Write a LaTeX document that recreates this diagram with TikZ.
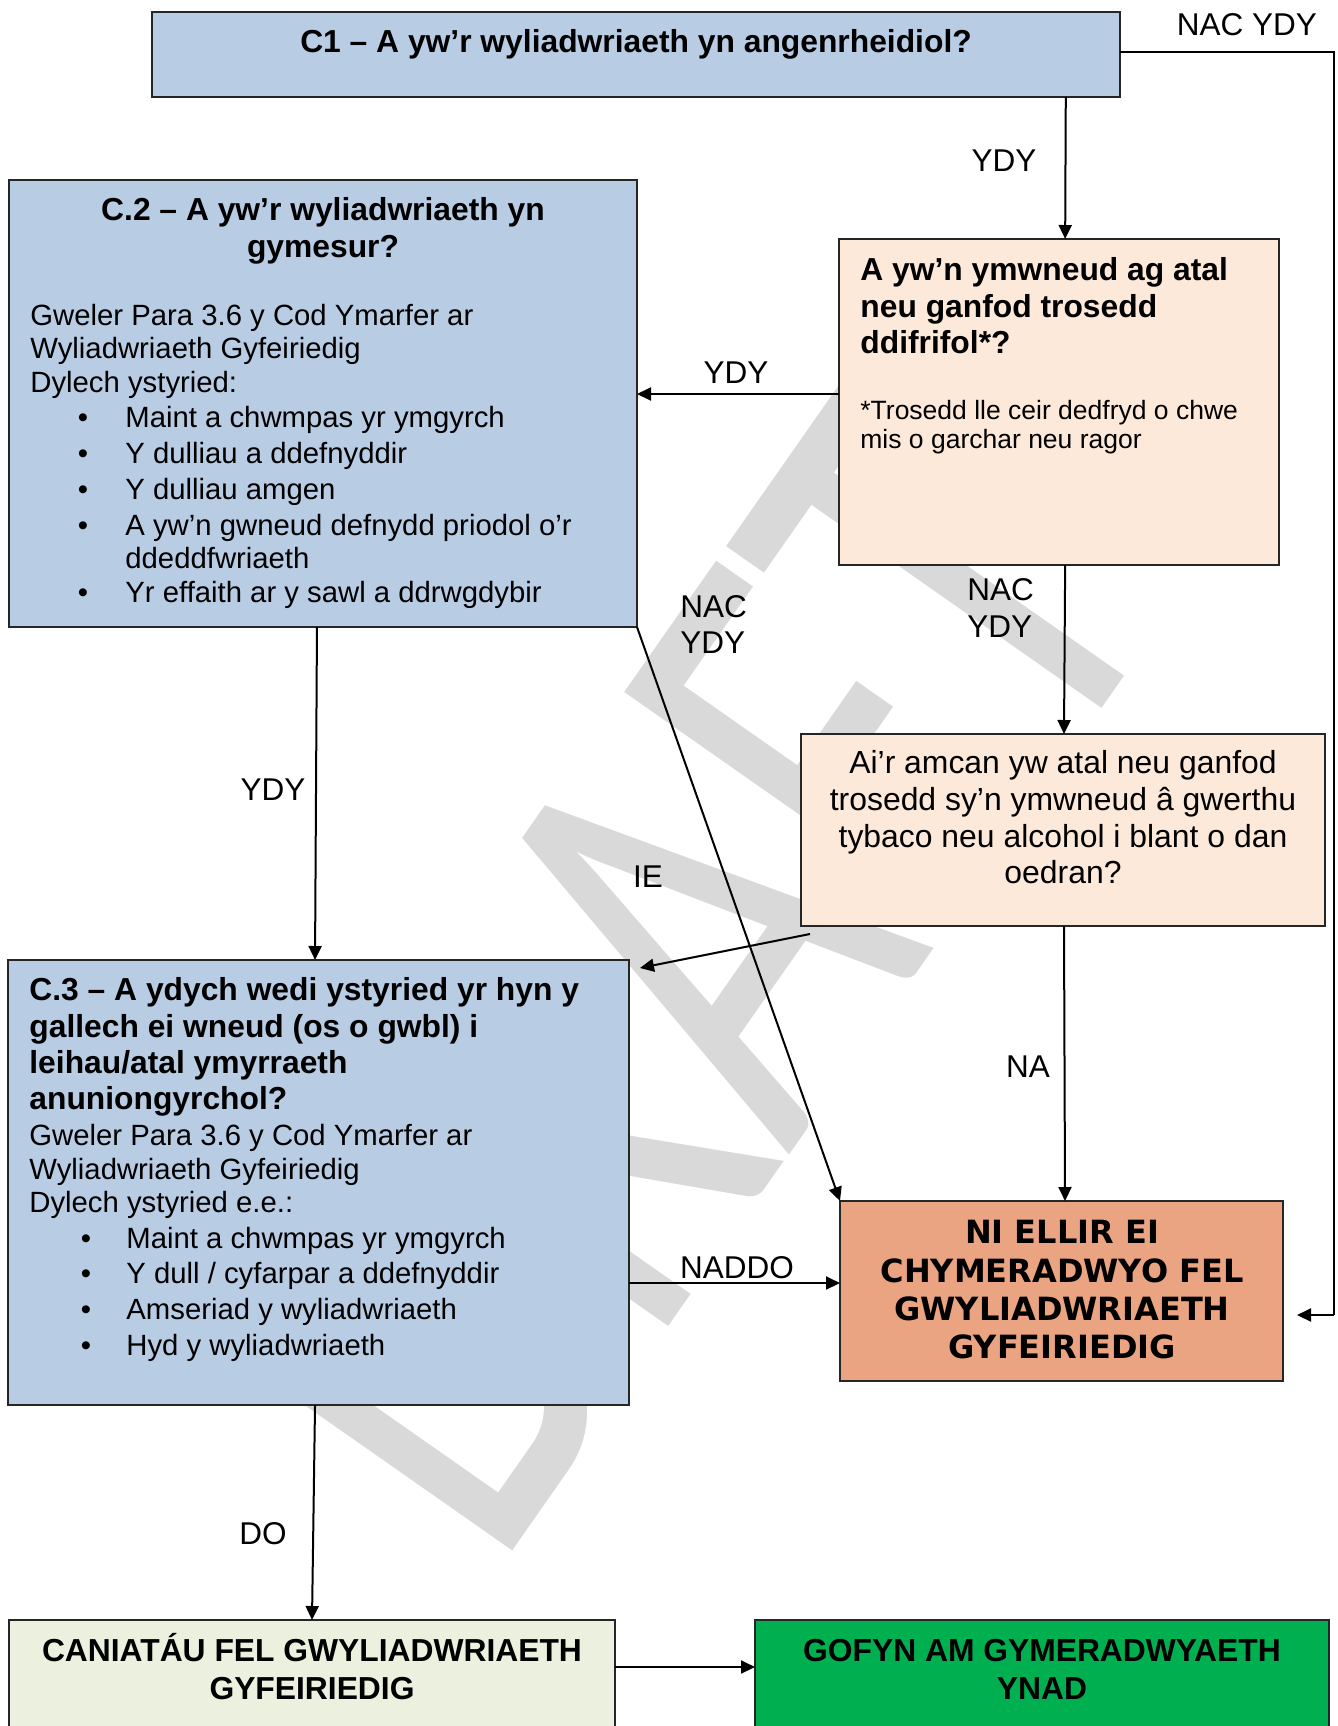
\documentclass[tikz,border=0pt]{standalone}
\usepackage{fontspec}
\setmainfont{Liberation Sans}
\newfontfamily\vfont{DejaVu Sans}
\newfontfamily\wmfont{Carlito}
\usetikzlibrary{arrows.meta,calc,fit}
\definecolor{qblue}{HTML}{B8CCE4}
\definecolor{qpeach}{HTML}{FDE9D9}
\definecolor{qsalmon}{HTML}{EAA482}
\definecolor{qpale}{HTML}{EBF1DE}
\definecolor{qgreen}{HTML}{00B050}
\definecolor{qwm}{HTML}{D9D9D9}
\tikzset{
  box/.style={draw=black!85,line width=1.15pt,inner sep=0pt,outer sep=0pt},
  ttl/.style={font=\fontsize{15.9}{18}\selectfont\bfseries,inner sep=0pt},
  ttlw/.style={ttl,anchor=base west},
  ttlc/.style={ttl,anchor=base},
  bod/.style={font=\fontsize{14.65}{17}\selectfont,inner sep=0pt,anchor=base west},
  bul/.style={font=\fontsize{14.65}{17}\selectfont,inner sep=0pt,anchor=base},
  foot/.style={font=\fontsize{13.25}{15}\selectfont,inner sep=0pt,anchor=base west},
  qtxt/.style={font=\fontsize{15.95}{18}\selectfont,inner sep=0pt,anchor=base},
  lbl/.style={font=\fontsize{15.75}{18}\selectfont,inner sep=0pt,anchor=base},
  nitxt/.style={font=\vfont\fontsize{16}{18}\selectfont\bfseries,inner sep=0pt,anchor=base},
  ln/.style={line width=1pt,draw=black},
  arr/.style={ln,-{Triangle[length=7pt,width=6.5pt]}}
}
\begin{document}
\begin{tikzpicture}[x=0.5pt,y=-0.5pt]
\useasboundingbox (0,0) rectangle (1338,1726);
% watermark
\node[font=\wmfont\fontsize{240}{240}\selectfont,text=qwm,rotate=55,xscale=0.92,yscale=1.3,inner sep=0pt] (wm) at (671,975) {DRAFT};
% boxes
\node[box,fill=qblue,fit={(152,12)(1120,97)}] (c1) {};
\node[box,fill=qblue,fit={(9,180)(637,627)}] (c2) {};
\node[box,fill=qpeach,fit={(839,239)(1279,565)}] (b2) {};
\node[box,fill=qpeach,fit={(801,734)(1325,926)}] (b3) {};
\node[box,fill=qblue,fit={(8,960)(629,1405)}] (c3) {};
\node[box,fill=qsalmon,fit={(840,1201)(1283,1381)}] (ni) {};
\node[box,fill=qpale,fit={(9,1620)(615,1760)}] (can) {};
\node[box,fill=qgreen,fit={(755,1620)(1329,1760)}] (gr) {};
% C1
\node[ttlc] (t1) at (636,52) {C1 – A yw’r wyliadwriaeth yn angenrheidiol?};
% C2
\node[ttlc] (t2a) at (323,220) {C.2 – A yw’r wyliadwriaeth yn};
\node[ttlc] (t2b) at (323,257) {gymesur?};
\node[bod] (c2l1) at (30,325) {Gweler Para 3.6 y Cod Ymarfer ar};
\node[bod] (c2l2) at (30,358) {Wyliadwriaeth Gyfeiriedig};
\node[bod] (c2l3) at (30,392) {Dylech ystyried:};
\foreach \yy/\tt [count=\i] in {427/{Maint a chwmpas yr ymgyrch},463/{Y dulliau a ddefnyddir},499/{Y dulliau amgen},535/{A yw’n gwneud defnydd priodol o’r},602/{Yr effaith ar y sawl a ddrwgdybir}}{
  \node[bod] (c2i\i) at (125,\yy) {\tt};
  \node[bul] (c2b\i) at (83,\yy) {•};
}
\node[bod] (c2i6) at (125,568) {ddeddfwriaeth};
% box 2
\node[ttlw] (b2t1) at (860,280) {A yw’n ymwneud ag atal};
\node[ttlw] (b2t2) at (860,317) {neu ganfod trosedd};
\node[ttlw] (b2t3) at (860,353) {ddifrifol*?};
\node[foot] (b2f1) at (860,419) {*Trosedd lle ceir dedfryd o chwe};
\node[foot] (b2f2) at (860,448) {mis o garchar neu ragor};
% box 3
\node[qtxt] (b3t1) at (1063,773) {Ai’r amcan yw atal neu ganfod};
\node[qtxt] (b3t2) at (1063,810) {trosedd sy’n ymwneud â gwerthu};
\node[qtxt] (b3t3) at (1063,847) {tybaco neu alcohol i blant o dan};
\node[qtxt] (b3t4) at (1063,883) {oedran?};
% C3
\node[ttlw] (t3a) at (29,1000) {C.3 – A ydych wedi ystyried yr hyn y};
\node[ttlw] (t3b) at (29,1037) {gallech ei wneud (os o gwbl) i};
\node[ttlw] (t3c) at (29,1073) {leihau/atal ymyrraeth};
\node[ttlw] (t3d) at (29,1109) {anuniongyrchol?};
\node[bod] (c3l1) at (29,1145) {Gweler Para 3.6 y Cod Ymarfer ar};
\node[bod] (c3l2) at (29,1179) {Wyliadwriaeth Gyfeiriedig};
\node[bod] (c3l3) at (29,1212) {Dylech ystyried e.e.:};
\foreach \yy/\tt [count=\i] in {1248/{Maint a chwmpas yr ymgyrch},1283/{Y dull / cyfarpar a ddefnyddir},1319/{Amseriad y wyliadwriaeth},1355/{Hyd y wyliadwriaeth}}{
  \node[bod] (c3i\i) at (126,\yy) {\tt};
  \node[bul] (c3b\i) at (86,\yy) {•};
}
% NI box
\node[nitxt] (n1) at (1062,1243) {NI ELLIR EI};
\node[nitxt] (n2) at (1062,1282) {CHYMERADWYO FEL};
\node[nitxt] (n3) at (1062,1320) {GWYLIADWRIAETH};
\node[nitxt] (n4) at (1062,1358) {GYFEIRIEDIG};
% bottom boxes
\node[ttlc] (ca1) at (312,1661) {CANIATÁU FEL GWYLIADWRIAETH};
\node[ttlc] (ca2) at (312,1699) {GYFEIRIEDIG};
\node[ttlc] (g1) at (1042,1661) {GOFYN AM GYMERADWYAETH};
\node[ttlc] (g2) at (1042,1699) {YNAD};
% connectors
\coordinate (rc) at (1334,1315);
\coordinate (rtip) at (1297,1315);
\draw[ln] ($(c1.north east)+(0,40)$) -| (rc);
\draw[arr] (rc) -- (rtip);
\draw[arr] ($(c1.south west)!0.944!(c1.south east)$) -- ($(b2.north west)!0.514!(b2.north east)$);
\draw[arr] ($(b2.north west)+(0,155)$) -- ($(c2.north east)+(0,214)$);
\draw[arr] ($(b2.south west)!0.514!(b2.south east)$) -- ($(b3.north west)!0.5019!(b3.north east)$);
\draw[arr] ($(b3.south west)!0.5019!(b3.south east)$) -- ($(ni.north west)!0.508!(ni.north east)$);
\draw[arr] ($(b3.south west)+(9,8)$) -- ($(c3.north east)+(11,8)$);
\draw[arr] (c2.south east) -- (ni.north west);
\draw[arr] ($(c2.south west)!0.4904!(c2.south east)$) -- ($(c3.north west)!0.4944!(c3.north east)$);
\draw[arr] ($(c3.north east)+(0,323)$) -- ($(ni.north west)+(0,82)$);
\draw[arr] ($(c3.south west)!0.4944!(c3.south east)$) -- (can.north);
\draw[arr] ($(can.north east)+(0,47)$) -- ($(gr.north west)+(0,47)$);
% labels
\node[lbl] (l1) at (1247,35) {NAC YDY};
\node[lbl] (l2) at (1004,171) {YDY};
\node[lbl] (l3) at (736,383) {YDY};
\node[lbl,anchor=base west] (l4a) at (680,617) {NAC};
\node[lbl,anchor=base west] (l4b) at (680,653) {YDY};
\node[lbl,anchor=base west] (l5a) at (967,600) {NAC};
\node[lbl,anchor=base west] (l5b) at (967,637) {YDY};
\node[lbl] (l6) at (273,800) {YDY};
\node[lbl] (l7) at (648,887) {IE};
\node[lbl] (l8) at (1028,1077) {NA};
\node[lbl] (l9) at (737,1278) {NADDO};
\node[lbl] (l10) at (263,1544) {DO};
\end{tikzpicture}
\end{document}
